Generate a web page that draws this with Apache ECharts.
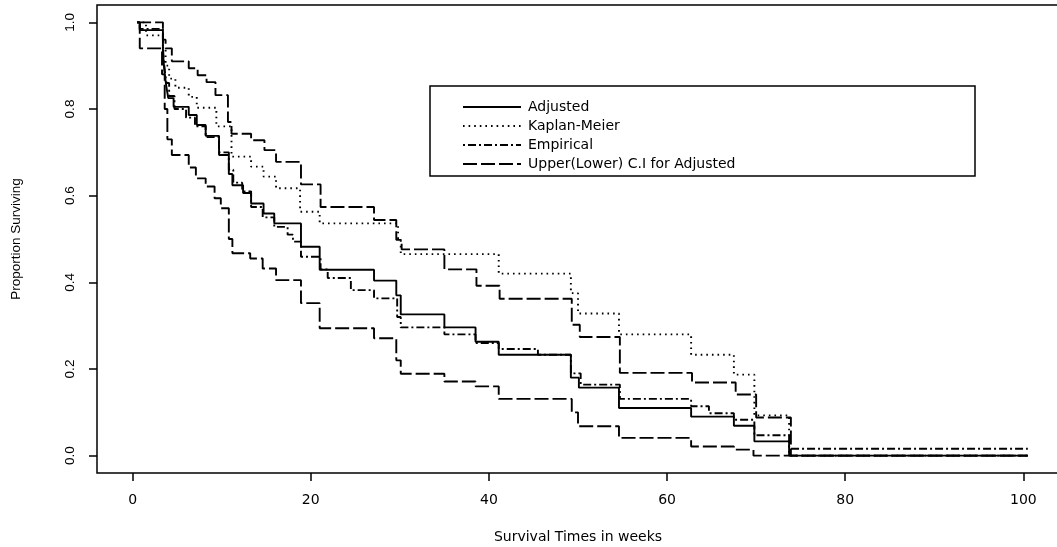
<!DOCTYPE html>
<html>
<head>
    <meta charset="utf-8">
    <title>Survival curves</title>
    <script src="https://cdn.jsdelivr.net/npm/echarts@6/dist/echarts.min.js"></script>
    <style>
        html, body { margin: 0; padding: 0; background: #fff; }
        #main { width: 1057px; height: 547px; }
    </style>
</head>
<body>
    <div id="main"></div>
    <script type="text/javascript">
        // [week, proportion surviving] - each value holds until the next time
        var adjusted = [
            [0.5, 1.0], [0.8, 0.982], [3.4, 0.93], [3.6, 0.88], [3.8, 0.85], [4.0, 0.825],
            [4.6, 0.805], [6.3, 0.786], [7.2, 0.763], [8.2, 0.738], [9.7, 0.694], [10.8, 0.65],
            [11.2, 0.624], [12.4, 0.606], [13.3, 0.582], [14.7, 0.559], [15.9, 0.536], [18.9, 0.482],
            [21.0, 0.429], [27.1, 0.404], [29.6, 0.37], [30.1, 0.326], [35.0, 0.296], [38.5, 0.263],
            [41.1, 0.233], [49.2, 0.18], [50.1, 0.157], [54.6, 0.110], [62.7, 0.090], [67.5, 0.069],
            [69.8, 0.033], [73.7, 0.0], [100.5, 0.0]
        ];
        var kaplanMeier = [
            [0.5, 1.0], [1.5, 0.97], [3.4, 0.94], [3.7, 0.90], [4.1, 0.87], [4.8, 0.849],
            [6.3, 0.828], [7.2, 0.803], [9.4, 0.760], [11.1, 0.690], [13.3, 0.667], [14.7, 0.644],
            [16.1, 0.617], [18.8, 0.563], [21.0, 0.536], [29.8, 0.50], [30.1, 0.465], [41.1, 0.420],
            [49.2, 0.375], [50.0, 0.328], [54.6, 0.280], [62.7, 0.233], [67.5, 0.187], [69.8, 0.093],
            [73.7, 0.0], [100.5, 0.0]
        ];
        var empirical = [
            [0.5, 1.0], [0.8, 0.985], [3.4, 0.94], [3.6, 0.89], [3.8, 0.86], [4.1, 0.83],
            [4.7, 0.80], [6.0, 0.78], [7.0, 0.76], [8.2, 0.735], [9.7, 0.70], [10.8, 0.66],
            [11.3, 0.63], [12.3, 0.61], [13.3, 0.574], [14.6, 0.55], [15.9, 0.528], [17.4, 0.51],
            [18.0, 0.494], [18.9, 0.459], [21.1, 0.43], [21.9, 0.41], [24.5, 0.382], [27.1, 0.363],
            [29.7, 0.32], [30.1, 0.296], [35.0, 0.28], [38.5, 0.26], [41.1, 0.246], [45.5, 0.233],
            [49.2, 0.19], [50.3, 0.164], [54.7, 0.131], [62.7, 0.114], [64.7, 0.098], [67.5, 0.083],
            [69.8, 0.047], [73.7, 0.016], [100.5, 0.016]
        ];
        var upperCI = [
            [0.5, 1.0], [3.4, 0.96], [3.7, 0.94], [4.4, 0.91], [6.3, 0.894], [7.3, 0.878],
            [8.3, 0.862], [9.3, 0.832], [10.7, 0.77], [11.1, 0.743], [13.3, 0.728], [14.8, 0.705],
            [16.1, 0.678], [18.9, 0.626], [21.1, 0.574], [27.1, 0.544], [29.6, 0.498], [30.2, 0.476],
            [35.0, 0.43], [38.6, 0.392], [41.2, 0.362], [49.3, 0.302], [50.2, 0.274], [54.7, 0.191],
            [62.8, 0.169], [67.7, 0.141], [70.0, 0.088], [73.9, 0.0], [100.5, 0.0]
        ];
        var lowerCI = [
            [0.5, 1.0], [0.8, 0.94], [3.3, 0.88], [3.6, 0.80], [3.9, 0.73], [4.4, 0.694],
            [6.3, 0.665], [7.1, 0.640], [8.2, 0.621], [9.2, 0.594], [9.9, 0.571], [10.8, 0.50],
            [11.2, 0.467], [13.2, 0.455], [14.6, 0.432], [16.1, 0.405], [18.9, 0.352], [21.0, 0.294],
            [27.1, 0.271], [29.6, 0.22], [30.1, 0.189], [35.0, 0.171], [38.5, 0.160], [41.1, 0.131],
            [49.3, 0.10], [50.0, 0.068], [54.6, 0.041], [62.7, 0.021], [67.5, 0.014], [69.7, 0.0],
            [100.5, 0.0]
        ];
        var xTicks = [0, 20, 40, 60, 80, 100];
        var yTicks = [0, 0.2, 0.4, 0.6, 0.8, 1.0];
        var legendNames = ['Adjusted', 'Kaplan-Meier', 'Empirical', 'Upper(Lower) C.I for Adjusted'];

        var myChart = echarts.init(document.getElementById('main'));

        var hFont = 'DejaVu Sans';
        var vFont = 'Liberation Sans';

        function stepLine(name, data, dash, width) {
            return {
                name: name,
                type: 'line',
                step: 'end',
                data: data,
                symbol: 'none',
                silent: true,
                itemStyle: { color: '#000' },
                lineStyle: { color: '#000', width: width, type: dash, cap: 'butt' }
            };
        }

        var option = {
            backgroundColor: '#fff',
            animation: false,
            grid: {
                left: 97, right: -2, top: 5, bottom: 74,
                outerBoundsMode: 'none',
                show: true,
                borderColor: '#000',
                borderWidth: 1.5,
                backgroundColor: 'transparent'
            },
            legend: {
                orient: 'vertical',
                left: 457,
                top: 95,
                itemWidth: 58,
                itemHeight: 14,
                itemGap: 5,
                data: legendNames,
                selectedMode: false,
                itemStyle: { opacity: 0 },
                textStyle: {
                    color: '#000',
                    fontSize: 14,
                    fontFamily: hFont,
                    padding: [0, 0, 0, 2]
                }
            },
            graphic: [{
                type: 'rect',
                shape: { x: 430, y: 86, width: 545, height: 90 },
                style: { fill: 'none', stroke: '#000', lineWidth: 1.5 },
                z: 10
            }],
            xAxis: {
                type: 'value',
                min: -4,
                max: 104,
                name: 'Survival Times in weeks',
                nameLocation: 'middle',
                nameGap: 57,
                nameTextStyle: { color: '#000', fontSize: 14, fontFamily: hFont },
                axisLine: { show: false, onZero: false },
                axisTick: {
                    show: true, inside: false, length: 8,
                    customValues: xTicks,
                    lineStyle: { color: '#000', width: 1.5 }
                },
                axisLabel: {
                    customValues: xTicks,
                    color: '#000', fontSize: 14, fontFamily: hFont, margin: 20
                },
                splitLine: { show: false }
            },
            yAxis: {
                type: 'value',
                min: -0.04,
                max: 1.04,
                name: 'Proportion Surviving',
                nameLocation: 'middle',
                nameGap: 74,
                nameRotate: 90,
                nameTextStyle: { color: '#000', fontSize: 13.5, fontFamily: vFont },
                axisLine: { show: false, onZero: false },
                axisTick: {
                    show: true, inside: false, length: 8,
                    customValues: yTicks,
                    lineStyle: { color: '#000', width: 1.5 }
                },
                axisLabel: {
                    customValues: yTicks,
                    rotate: 90,
                    color: '#000', fontSize: 13.5, fontFamily: vFont, margin: 20,
                    formatter: function (v) { return v.toFixed(1); }
                },
                splitLine: { show: false }
            },
            series: [
                stepLine(legendNames[0], adjusted, 'solid', 1.9),
                stepLine(legendNames[1], kaplanMeier, [1.6, 4], 1.9),
                stepLine(legendNames[2], empirical, [2, 3, 8, 3], 1.9),
                stepLine(legendNames[3], upperCI, [14, 4], 1.9),
                stepLine(legendNames[3], lowerCI, [14, 4], 1.9)
            ]
        };

        myChart.setOption(option);
    </script>
</body>
</html>
